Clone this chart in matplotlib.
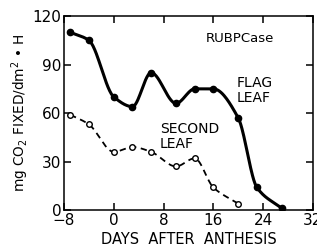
import numpy as np
import matplotlib
matplotlib.use('Agg')
import matplotlib.pyplot as plt

# flag leaf (filled markers, solid line)
flag_days = [-7, -4, 0, 3, 6, 10, 13, 16, 20, 23, 27]
flag_vals = [110, 105, 70, 64, 85, 66, 75, 75, 57, 14, 1]

# second leaf (open markers, dashed line)
second_days = [-7, -4, 0, 3, 6, 10, 13, 16, 20]
second_vals = [59, 53, 36, 39, 36, 27, 32, 14, 4]

x_ticks = [-8, 0, 8, 16, 24, 32]
y_ticks = [0, 30, 60, 90, 120]


def smooth(x, y, n=30):
    # monotone cubic (pchip) only for drawing the curve between markers
    x = np.asarray(x, float)
    y = np.asarray(y, float)
    h = np.diff(x)
    d = np.diff(y) / h
    m = np.zeros_like(y)
    for k in range(1, len(x) - 1):
        if d[k - 1] * d[k] > 0:
            w1 = 2 * h[k] + h[k - 1]
            w2 = h[k] + 2 * h[k - 1]
            m[k] = (w1 + w2) / (w1 / d[k - 1] + w2 / d[k])
    m[0] = d[0]
    m[-1] = d[-1]
    xs, ys = [], []
    for k in range(len(x) - 1):
        t = np.linspace(0, 1, n, endpoint=False)
        h00 = 2 * t**3 - 3 * t**2 + 1
        h10 = t**3 - 2 * t**2 + t
        h01 = -2 * t**3 + 3 * t**2
        h11 = t**3 - t**2
        xs.append(x[k] + t * h[k])
        ys.append(h00 * y[k] + h10 * h[k] * m[k] + h01 * y[k + 1] + h11 * h[k] * m[k + 1])
    xs.append([x[-1]])
    ys.append([y[-1]])
    return np.concatenate(xs), np.concatenate(ys)


plt.rcParams['font.family'] = ['DejaVu Sans']
fig = plt.figure(figsize=(3.17, 2.48), dpi=100)
ax = fig.add_axes([0.202, 0.153, 0.785, 0.782])

fx, fy = smooth(flag_days, flag_vals)
ax.plot(fx, fy, color='black', lw=2.2)
ax.plot(flag_days, flag_vals, 'o', color='black', ms=4.5)

sx, sy = smooth(second_days, second_vals)
ax.plot(sx, sy, color='black', lw=1.3, ls=(0, (3.5, 2.5)))
ax.plot(second_days, second_vals, 'o', mfc='white', mec='black', mew=1.0, ms=4)

ax.set_xlim(-8, 32)
ax.set_ylim(0, 120)
ax.set_xticks(x_ticks)
ax.set_yticks(y_ticks)
ax.tick_params(direction='in', length=5, width=1.1, labelsize=11,
               top=True, right=True, pad=2)
for s in ax.spines.values():
    s.set_linewidth(1.1)

ax.text(20.3, 106, 'RUBPCase', fontsize=9.5, ha='center', va='center')
ax.text(19.7, 74, 'FLAG\nLEAF', fontsize=10, ha='left', va='center', linespacing=1.1)
ax.text(7.4, 45.5, 'SECOND\nLEAF', fontsize=10, ha='left', va='center', linespacing=1.1)

ax.set_xlabel('DAYS  AFTER  ANTHESIS', fontsize=10.5, labelpad=3)
ax.set_ylabel(r'mg CO$_2$ FIXED/dm$^2$ • H', fontsize=9.8, labelpad=1)

fig.savefig('out.png', dpi=100)
